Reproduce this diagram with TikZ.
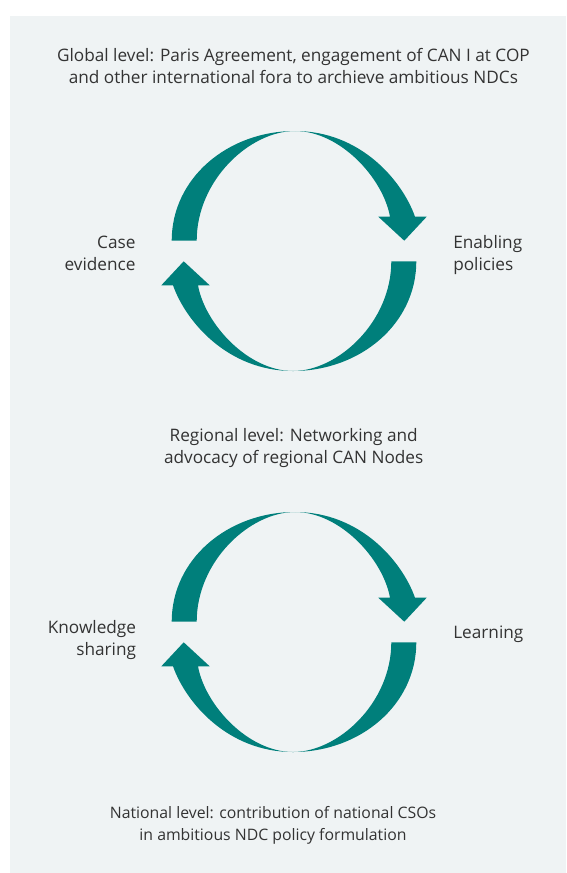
\documentclass[tikz,border=0pt]{standalone}
\usepackage{fontspec}
\setmainfont{Open Sans}
\definecolor{panelgrey}{HTML}{EFF3F4}
\definecolor{teal}{HTML}{007F7B}
\definecolor{txtgrey}{HTML}{333333}
\begin{document}
\begin{tikzpicture}[x=1pt,y=-1pt,
  lbl/.style={inner sep=0pt,outer sep=0pt,text=txtgrey,
    font=\fontsize{17.2}{22}\selectfont},
  smalllbl/.style={lbl,font=\fontsize{15.8}{22}\selectfont},
  % one circular pair of arrows, centred on the pic origin
  loopring/.pic={
    \foreach \r in {0,180}{
      \begin{scope}[rotate=\r]
        % curved shaft with arrow head
        \fill[teal] (1,-120) .. controls (66,-120) and (108,-71) .. (121,-34.3)
          -- (132.7,-34.3) -- (110.3,-10.3) -- (84.3,-34.3) -- (96,-34.3)
          .. controls (89,-73) and (46,-120) .. (1,-120) -- cycle;
        % tapered tail
        \fill[teal] (1,-120) .. controls (-66,-120) and (-122.3,-73) .. (-122.3,-10.3)
          -- (-97.3,-10.3) .. controls (-97.3,-71) and (-44,-120) .. (1,-120) -- cycle;
      \end{scope}
    }
  }]
\useasboundingbox (0,0) rectangle (566,873);
\fill[panelgrey] (10,16) rectangle (566,873);

% multi-line nodes are placed by the baseline of their last line
\node[lbl,anchor=base,align=center] (global) at (293.4,83.3)
  {Global level: Paris Agreement, engagement of CAN I at COP\\
   and other international fora to archieve ambitious NDCs};

\pic at (294,251) {loopring};
\node[lbl,anchor=base east,align=right] (case) at (135.5,270.3) {Case\\evidence};
\node[lbl,anchor=base west,align=left] (enabling) at (453.3,270.3) {Enabling\\policies};

\node[lbl,anchor=base,align=center] (regional) at (293.7,463)
  {Regional level: Networking and\\advocacy of regional CAN Nodes};

\pic at (294,632) {loopring};
\node[lbl,anchor=base east,align=right] (knowledge) at (136,655) {Knowledge\\sharing};
\node[lbl,anchor=base west] (learning) at (453.3,638) {Learning};

\node[smalllbl,anchor=base,align=center] (national) at (273,840)
  {National level: contribution of national CSOs\\
   in ambitious NDC policy formulation};
\end{tikzpicture}
\end{document}
